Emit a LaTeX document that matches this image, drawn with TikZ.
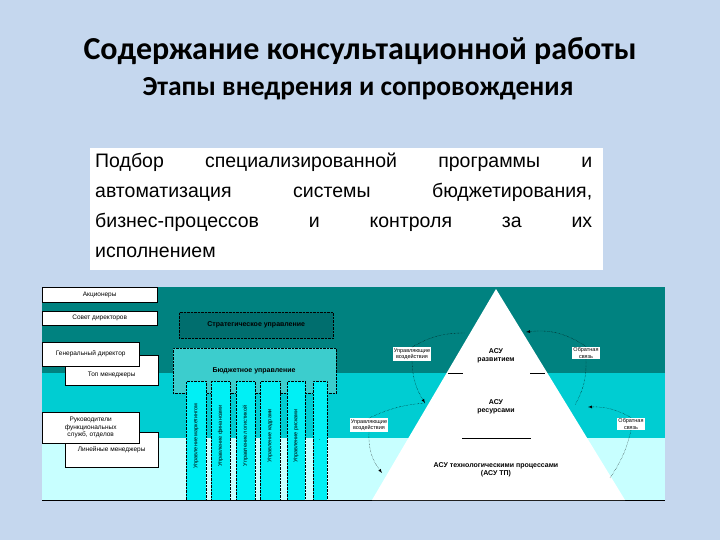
\documentclass[tikz,border=0pt]{standalone}
\usepackage{fontspec}
\setmainfont{Liberation Sans}
\newfontfamily\titlefont{Carlito}
\definecolor{slidebg}{RGB}{197,215,238}
\definecolor{band1}{RGB}{0,130,128}
\definecolor{band2}{RGB}{0,205,210}
\definecolor{band3}{RGB}{200,255,255}
\definecolor{strat}{RGB}{0,110,110}
\definecolor{budg}{RGB}{60,205,205}
\definecolor{colc}{RGB}{0,240,245}
\begin{document}
\begin{tikzpicture}[x=1pt,y=-1pt,
 lbox/.style={draw=black,fill=white,font=\fontsize{6.5}{7.5}\selectfont,inner sep=1pt,align=center},
 col/.style={draw=black,densely dotted,fill=colc},
 sm/.style={fill=white,font=\fontsize{5.5}{6.5}\selectfont,align=center,inner sep=1pt},
 arc/.style={densely dotted,-latex,thin}]
\useasboundingbox (0,0) rectangle (720,540);
\fill[slidebg] (0,0) rectangle (720,540);
\node (t1) at (360,51) {\titlefont\fontsize{32}{36}\selectfont\bfseries Содержание консультационной работы};
\node (t2) at (358,89) {\titlefont\fontsize{27.5}{30}\selectfont\bfseries Этапы внедрения и сопровождения};
\node[fill=white,minimum width=513,minimum height=122,anchor=north west,inner sep=0] (tb) at (90,148) {};
\node[anchor=north west,align=left,font=\fontsize{19.5}{30}\selectfont,inner sep=0] (tt) at (95,153)
 {\makebox[497pt][s]{Подбор специализированной программы и}\\
  \makebox[497pt][s]{автоматизация системы бюджетирования,}\\
  \makebox[497pt][s]{бизнес-процессов и контроля за их}\\
  исполнением};
% bands
\fill[band1] (42,287) rectangle (665,373);
\fill[band2] (42,373) rectangle (665,438);
\fill[band3] (42,438) rectangle (665,500);
\draw[thick] (42,500) -- (665,500);
% left boxes
\node[lbox,minimum width=115,minimum height=15,anchor=north west] (a1) at (42,287) {Акционеры};
\node[lbox,minimum width=115,minimum height=14,anchor=north west] (a2) at (42,311) {Совет директоров};
\node[lbox,minimum width=93,minimum height=30,anchor=north west,text depth=0pt] (a4) at (65,355) {\raisebox{-6pt}{Топ менеджеры}};
\node[lbox,minimum width=97,minimum height=24,anchor=north west] (a3) at (42,342) {\raisebox{3pt}{Генеральный директор}};
\node[lbox,minimum width=93,minimum height=35,anchor=north west] (a6) at (65,432) {\raisebox{-4pt}{Линейные менеджеры}};
\node[lbox,minimum width=97,minimum height=31,anchor=north west] (a5) at (42,412) {Руководители\\функциональных\\служб, отделов};
% management boxes
\node[draw=black,densely dotted,fill=strat,minimum width=154,minimum height=26,anchor=north west,font=\fontsize{7}{8}\selectfont\bfseries] (s) at (179,312) {Стратегическое управление};
\node[draw=black,densely dotted,fill=budg,minimum width=163,minimum height=45,anchor=north west,inner sep=0] (b) at (173,348) {};
\node[font=\fontsize{7}{8}\selectfont\bfseries] (bt) at (254,371) {Бюджетное управление};
\foreach \x/\w [count=\i] in {186/20,211/19,236/19,260/20,287/18,313/14}
 \node[col,minimum width=\w,minimum height=119,anchor=north west,inner sep=0] (c\i) at (\x,381) {};
\foreach \x/\t [count=\i] in {196/Управление маркетингом,220.5/Управление финансами,245.5/Управление логистикой,270/Управление кадрами,296/Управление рисками}
 \node[rotate=90,font=\fontsize{5.5}{6}\selectfont] (ct\i) at (\x,436) {\t};
\node[font=\fontsize{5.5}{6}\selectfont] (ct6) at (320,440) {.};
% pyramid
\fill[white] (496,289) -- (625,500) -- (372,500) -- cycle;
\coordinate (apex) at (496,289);
\draw[thick] (448,373) -- (463,373) (530,373) -- (545,373);
\draw (462,438) -- (531,438);
\node[font=\fontsize{7}{8.5}\selectfont\bfseries,align=center] (p1) at (496,356) {АСУ\\развитием};
\node[font=\fontsize{7}{8.5}\selectfont\bfseries,align=center] (p2) at (496,407) {АСУ\\ресурсами};
\node[font=\fontsize{7}{8.5}\selectfont\bfseries,align=center] (p3) at (496,470) {АСУ технологическими процессами\\(АСУ ТП)};
% side labels
\node[sm] (u1) at (412,354) {Управляющие\\воздействия};
\node[sm] (o1) at (586,353) {Обратная\\связь};
\node[sm] (u2) at (369,425) {Управляющие\\воздействия};
\node[sm] (o2) at (631,424) {Обратная\\связь};
\coordinate (e1) at (465,333);
\coordinate (e2) at (425,403);
\coordinate (e3) at (526,332);
\coordinate (e4) at (575,405);
\coordinate (e5) at (382,473);
\coordinate (e6) at (610,478);
\coordinate (e7) at (588,407);
\draw[densely dotted] (u1.north) to[bend left=15] (e1);
\draw[arc] (u1.south) to[bend right=15] (e2);
\draw[arc] (o1.north) to[bend right=20] (e3);
\draw[densely dotted] (o1.south) to[bend left=15] (e4);
\draw[densely dotted] (u2.north) to[bend left=10] (e2);
\draw[arc] (u2.south) to[bend right=20] (e5);
\draw[arc] (o2.north) to[bend right=15] (e7);
\draw[densely dotted] (o2.south) to[bend left=10] (e6);
\end{tikzpicture}
\end{document}
